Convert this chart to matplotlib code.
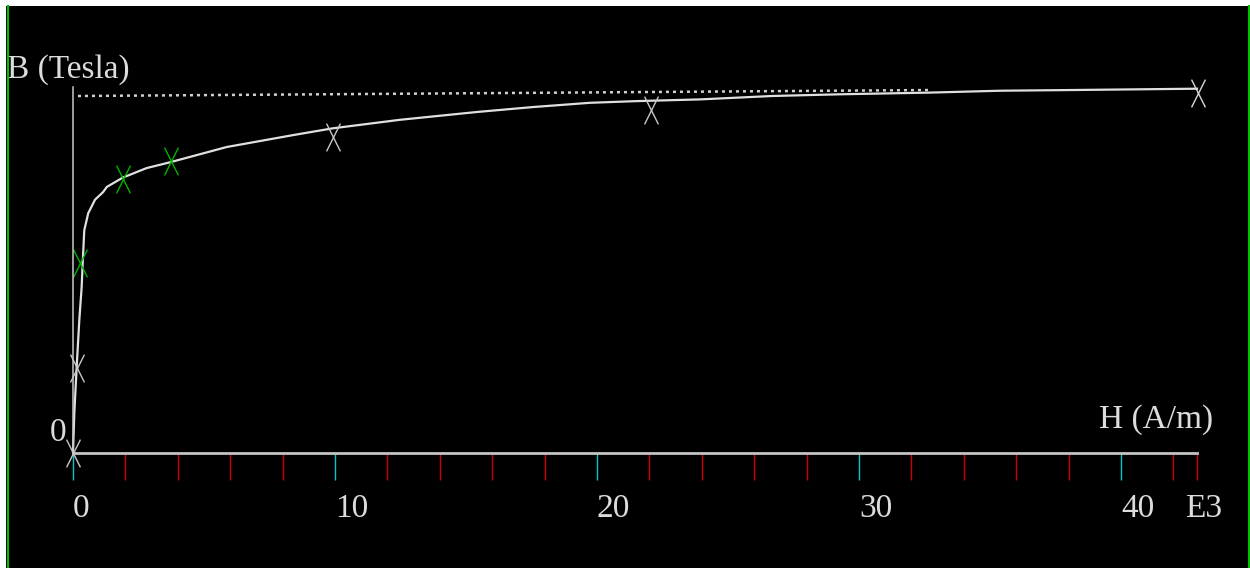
import matplotlib.pyplot as plt
import numpy as np
from matplotlib.path import Path

# measured points (H in kA/m, B in Tesla)
H_meas = [0, 0.15, 0.27, 1.90, 3.73, 9.92, 22.06, 42.94]
B_meas = [0, 0.50, 1.12, 1.61, 1.72, 1.86, 2.02, 2.12]
meas_col = ['#c8c8c8', '#c8c8c8', '#00b400', '#00b400', '#00b400',
            '#c8c8c8', '#c8c8c8', '#d8d8d8']

# fitted B-H curve
H_curve = [0, 0.05, 0.14, 0.24, 0.33, 0.37, 0.43, 0.58, 0.84, 1.15, 1.29,
           1.90, 2.81, 3.70, 5.87, 8.40, 9.92, 12.48, 15.42, 17.56, 19.73,
           21.53, 23.93, 26.68, 29.27, 32.71, 35.38, 38.05, 42.90]
B_curve = [0, 0.235, 0.506, 0.78, 0.976, 1.12, 1.31, 1.41, 1.49, 1.535, 1.565,
           1.62, 1.676, 1.71, 1.80, 1.87, 1.91, 1.96, 2.006, 2.035, 2.06,
           2.07, 2.08, 2.10, 2.11, 2.12, 2.131, 2.135, 2.143]

# saturation line (dotted)
H_sat = [0.19, 32.7]
B_sat = [2.10, 2.135]

major_ticks = [0, 10, 20, 30, 40]
major_labels = ['0', '10', '20', '30', '40']
minor_ticks = [2, 4, 6, 8, 12, 14, 16, 18, 22, 24, 26, 28, 32, 34, 36, 38, 42]
h_end = 42.9
b_top = 2.153

plt.rcParams['font.family'] = ['Liberation Serif', 'DejaVu Serif']
txt = '#dcdcdc'
fs = 24

fig = plt.figure(figsize=(12.5, 5.68), dpi=100, facecolor='white')
ax = fig.add_axes([6 / 1250, 0, 1244 / 1250, 562 / 568], facecolor='black')
ax.set_xlim(-67 / 26.2, 1177 / 26.2)
ax.set_ylim(-115 / 170, 447 / 170)

for s in ['top', 'right']:
    ax.spines[s].set_visible(False)
ax.spines['left'].set_position(('data', 0))
ax.spines['left'].set_bounds(0, b_top)
ax.spines['left'].set_color('#c8c8c8')
ax.spines['left'].set_linewidth(1.1)
ax.spines['bottom'].set_position(('data', 0))
ax.spines['bottom'].set_bounds(0, h_end)
ax.spines['bottom'].set_color('#c4c4c4')
ax.spines['bottom'].set_linewidth(2)

ax.set_xticks(major_ticks)
ax.set_xticklabels(major_labels)
ax.set_xticks(minor_ticks + [h_end], minor=True)
ax.tick_params(axis='x', which='major', direction='out', length=19.4, width=1,
               color='#00c8c8', labelcolor=txt, labelsize=fs, pad=10)
ax.tick_params(axis='x', which='minor', direction='out', length=19.4, width=1,
               color='#d00000')
ax.xaxis.get_minor_ticks()[len(minor_ticks)].tick1line.set_color('white')
for lbl in ax.get_xticklabels():
    lbl.set_horizontalalignment('left')

ax.set_yticks([0, 1])
ax.set_yticklabels([])
ax.tick_params(axis='y', direction='out', length=4.3, width=1.5)
yt = ax.yaxis.get_major_ticks()
yt[0].tick1line.set_color('#00c8c8')
yt[1].tick1line.set_color('#e00000')

ax.plot(H_sat, B_sat, color='#d0d0d0', lw=1.8, linestyle=(0, (1.2, 1.6)))
ax.plot(H_curve, B_curve, color='#e0e0e0', lw=1.6)

xmark = Path([(-0.5, -1), (0.5, 1), (-0.5, 1), (0.5, -1)],
             [Path.MOVETO, Path.LINETO, Path.MOVETO, Path.LINETO])
for h, b, c in zip(H_meas, B_meas, meas_col):
    ax.plot(h, b, marker=xmark, markersize=20, markeredgewidth=1,
            color=c, linestyle='none')

ax.text(-66 / 26.2, (453 - 78) / 170, 'B (Tesla)', color=txt, fontsize=fs,
        ha='left', va='baseline')
ax.text(43.5, (453 - 428) / 170, 'H (A/m)', color=txt, fontsize=fs,
        ha='right', va='baseline')
ax.text(-7 / 26.2, (453 - 441) / 170, '0', color=txt, fontsize=fs,
        ha='right', va='baseline')
ax.text((1185 - 73) / 26.2, (453 - 517) / 170, 'E3', color=txt, fontsize=fs,
        ha='left', va='baseline')

for xp in [7.5, 1248.5]:
    fig.add_artist(plt.Line2D([xp / 1250] * 2, [0, 562 / 568],
                              transform=fig.transFigure, color='#00c000', lw=1.5))

fig.savefig('out.png', dpi=100, facecolor='white')
